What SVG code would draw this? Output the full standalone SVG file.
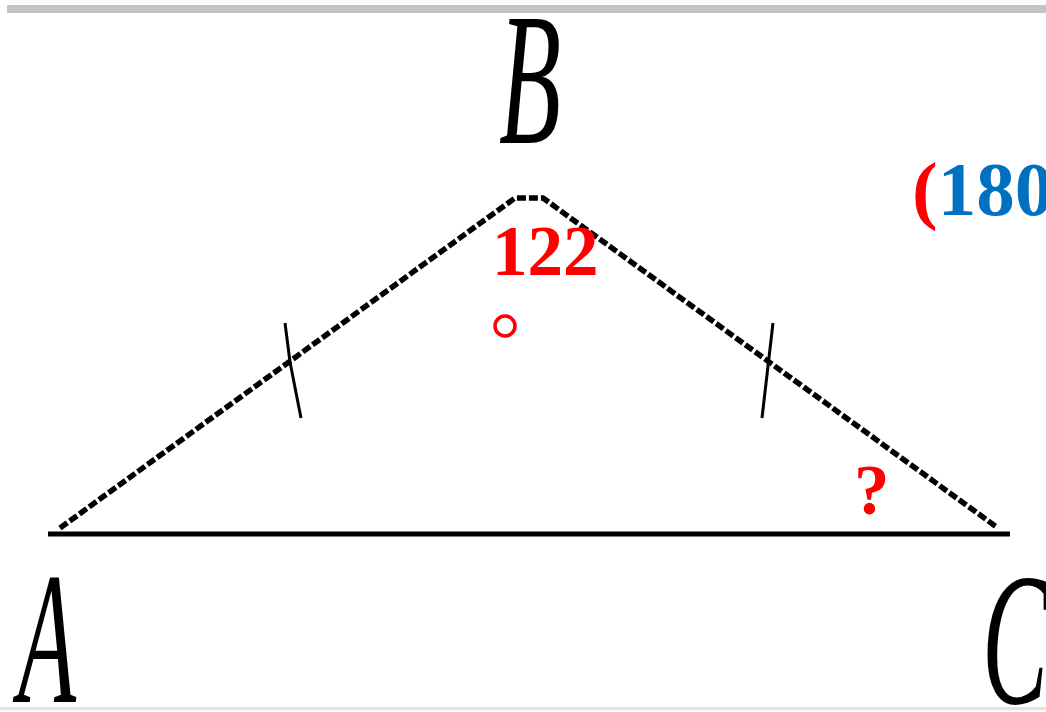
<svg xmlns="http://www.w3.org/2000/svg" width="1046" height="712" viewBox="0 0 1046 712">
<style>
.side{stroke:#000;stroke-width:5.5;fill:none;stroke-dasharray:9 3}
.base{stroke:#000;stroke-width:5;fill:none}
.tick{stroke:#000;stroke-width:3;fill:none}
.lbl{font-family:"Liberation Serif","Times New Roman",serif;font-style:italic;font-size:189px;fill:#000}
.red{font-family:"Liberation Serif","Times New Roman",serif;font-weight:bold;font-size:71px;fill:#ff0000}
.blue{font-family:"Liberation Serif","Times New Roman",serif;font-weight:bold;font-size:77px;fill:#0070c0}
</style>
<rect width="1046" height="712" fill="#fff"/>
<rect x="7" y="5" width="1039" height="8" fill="#c4c4c4"/>
<rect x="0" y="707" width="1046" height="3" fill="#e2e2e2"/>
<g id="edges">
<path class="side" d="M60 528 L515 198 L543 198 L998 528"/>
<line class="base" x1="48" y1="534" x2="1010" y2="534"/>
<path class="tick" d="M285 323 L290 362 L301 418"/>
<path class="tick" d="M773 323 L768 366 L762 418"/>
</g>
<g id="A"><text class="lbl" x="18" y="702" textLength="58" lengthAdjust="spacingAndGlyphs">A</text></g>
<g id="B"><text class="lbl" x="499" y="143" textLength="62" lengthAdjust="spacingAndGlyphs">B</text></g>
<g id="C"><text class="lbl" x="982" y="703" textLength="66" lengthAdjust="spacingAndGlyphs">C</text></g>
<g id="angleB">
<text class="red" x="492" y="275">122</text>
<circle cx="505" cy="326" r="10" fill="none" stroke="#ff0000" stroke-width="3.5"/>
</g>
<g id="angleC"><text class="red" x="854" y="514">?</text></g>
<g id="note"><text x="912" y="215"><tspan class="blue" style="fill:#ff0000">(</tspan><tspan class="blue">180</tspan></text></g>
</svg>
